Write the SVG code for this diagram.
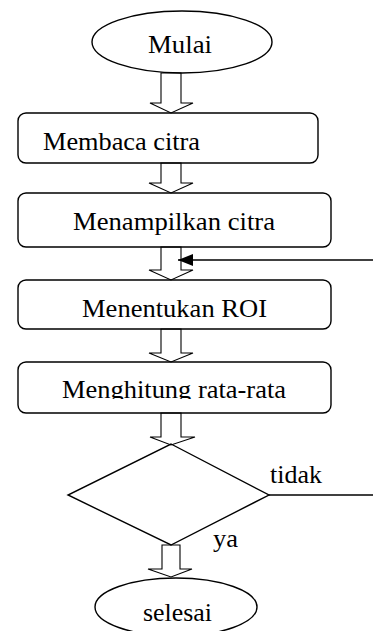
<svg xmlns="http://www.w3.org/2000/svg" width="373" height="631" viewBox="0 0 373 631">
<style>
.shape{fill:#fff;stroke:#000;stroke-width:1.4}
.blk{fill:none;stroke:#000;stroke-width:1.1;stroke-linejoin:miter}
.ln{fill:none;stroke:#000;stroke-width:1.5}
.t{font-family:'Liberation Serif','Times New Roman',serif;font-size:26px;fill:#000}
</style>
<defs>
<marker id="ah" markerWidth="16" markerHeight="12" refX="15" refY="6" orient="auto" markerUnits="userSpaceOnUse">
<path d="M0,0 L15,6 L0,12 Z" fill="#000"/>
</marker>
<clipPath id="clip4"><rect x="0" y="360" width="373" height="39"/></clipPath>
</defs>
<g id="start">
<ellipse class="shape" cx="182" cy="42" rx="90" ry="31"/>
<text class="t" x="148" y="53" textLength="64" lengthAdjust="spacingAndGlyphs">Mulai</text>
</g>
<g id="read">
<rect class="shape" x="18" y="113" width="300" height="50" rx="8"/>
<text class="t" x="43" y="150" textLength="157" lengthAdjust="spacingAndGlyphs">Membaca citra</text>
</g>
<g id="show">
<rect class="shape" x="18" y="193" width="313" height="54" rx="8"/>
<text class="t" x="73" y="230" textLength="202" lengthAdjust="spacingAndGlyphs">Menampilkan citra</text>
</g>
<g id="roi">
<rect class="shape" x="18" y="280" width="313" height="49" rx="8"/>
<text class="t" x="82" y="317" textLength="185" lengthAdjust="spacingAndGlyphs">Menentukan ROI</text>
</g>
<g id="mean">
<rect class="shape" x="18" y="362" width="313" height="51" rx="8"/>
<text class="t" x="62" y="398" textLength="224" lengthAdjust="spacingAndGlyphs" clip-path="url(#clip4)">Menghitung rata-rata</text>
</g>
<g id="decision">
<polygon class="shape" points="171,444 269,495 171,545 68,495"/>
</g>
<g id="end">
<ellipse class="shape" cx="176" cy="607" rx="81" ry="29"/>
<text class="t" x="143" y="621" textLength="69" lengthAdjust="spacingAndGlyphs">selesai</text>
</g>
<g id="connectors">
<polygon class="blk" points="161,73 181,73 181,103 193,103 171,113 150,103 161,103"/>
<polygon class="blk" points="161,163 181,163 181,183 193,183 171,193 149,183 161,183"/>
<polygon class="blk" points="161,247 181,247 181,270 193,270 171,280 149,270 161,270"/>
<polygon class="blk" points="161,329 181,329 181,353 193,353 171,362 149,353 161,353"/>
<polygon class="blk" points="161,413 181,413 181,437 195,437 171,445 150,437 161,437"/>
<polygon class="blk" points="162,545 180,545 180,569 192,569 171,577 148,569 162,569"/>
<line class="ln" x1="373" y1="260" x2="178" y2="260" marker-end="url(#ah)"/>
<line class="ln" x1="269" y1="495" x2="373" y2="495"/>
<text class="t" x="270" y="483" textLength="52" lengthAdjust="spacingAndGlyphs">tidak</text>
<text class="t" x="213" y="547" textLength="25" lengthAdjust="spacingAndGlyphs">ya</text>
</g>
</svg>
